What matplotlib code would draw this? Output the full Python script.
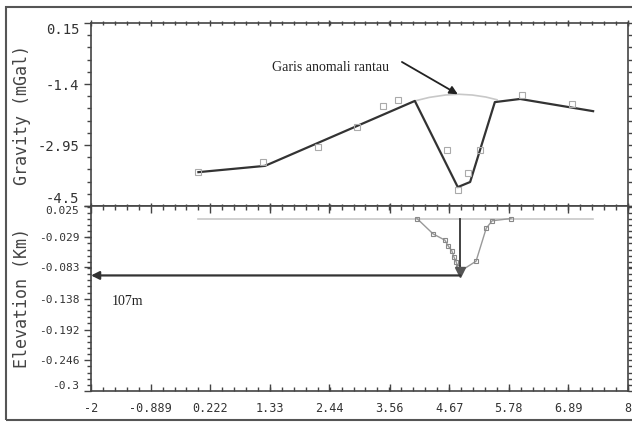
import matplotlib.pyplot as plt
import numpy as np
from matplotlib.patches import Rectangle
from matplotlib.ticker import AutoMinorLocator

# gravity profile (top panel)
grav_line_x = [0.0, 1.24, 4.03, 4.83, 5.06, 5.52, 5.99, 7.35]
grav_line_g = [-3.64, -3.48, -1.83, -4.02, -3.89, -1.86, -1.78, -2.09]

obs_x = [0.0, 1.20, 2.23, 2.95, 3.44, 3.72, 4.63, 4.83, 5.02, 5.24, 6.03, 6.96]
obs_g = [-3.64, -3.38, -3.00, -2.49, -1.96, -1.81, -3.08, -4.09, -3.66, -3.08, -1.68, -1.91]

# regional anomaly ("garis anomali rantau")
reg_x = [4.03, 4.30, 4.60, 4.85, 5.10, 5.35, 5.56]
reg_g = [-1.83, -1.74, -1.68, -1.66, -1.68, -1.73, -1.80]

# basin model (bottom panel)
surf_x = [0.0, 7.35]
surf_e = [0.003, 0.003]
basin_x = [4.07, 4.37, 4.59, 4.65, 4.72, 4.76, 4.80, 4.83, 4.87, 5.17, 5.36, 5.47, 5.82]
basin_e = [0.003, -0.024, -0.035, -0.045, -0.054, -0.065, -0.073, -0.082, -0.090, -0.072, -0.014, -0.001, 0.003]
depth_x = 4.88
depth_e = -0.097

x_ticks = [-2, -0.889, 0.222, 1.33, 2.44, 3.56, 4.67, 5.78, 6.89, 8]
g_ticks = [0.15, -1.4, -2.95, -4.5]
e_ticks = [0.025, -0.029, -0.083, -0.138, -0.192, -0.246, -0.3]

mono = "DejaVu Sans Mono"
serif = "Liberation Serif"
txt = "#333333"

fig = plt.figure(figsize=(6.32, 4.23), dpi=100)
ax1 = fig.add_axes([0.144, 0.5130, 0.8497, 0.4326])
ax2 = fig.add_axes([0.144, 0.0757, 0.8497, 0.4373], sharex=ax1)

for ax in (ax1, ax2):
    ax.set_xlim(-2, 8)
    ax.set_xticks(x_ticks)
    ax.xaxis.set_minor_locator(AutoMinorLocator(5))
    ax.yaxis.set_minor_locator(AutoMinorLocator(5))
    ax.tick_params(which="both", top=True, right=True, color="#444444", width=1)
    ax.tick_params(which="major", length=5)
    ax.tick_params(which="minor", length=3)
    ax.tick_params(axis="x", which="both", direction="inout")
    ax.tick_params(axis="y", which="both", direction="out")
    for s in ax.spines.values():
        s.set_color("#444444")
        s.set_linewidth(1.2)

# top panel
ax1.set_ylim(-4.5, 0.15)
ax1.set_yticks(g_ticks)
ax1.set_yticklabels(["0.15", "-1.4", "-2.95", "-4.5"], fontfamily=mono,
                    fontsize=10, color=txt)
labs = ax1.get_yticklabels()
labs[0].set_va("top")
labs[-1].set_va("bottom")
ax1.tick_params(axis="x", labelbottom=False)
ax1.plot(reg_x, reg_g, color="#c8c8c8", lw=1.2)
ax1.plot(grav_line_x, grav_line_g, color="#333333", lw=1.6)
ax1.plot(obs_x, obs_g, ls="none", marker="s", ms=4, mfc="none",
         mec="#aaaaaa", mew=0.8)
ax1.set_ylabel("Gravity (mGal)", fontfamily=mono, fontsize=12, color="#444444")
ax1.yaxis.set_label_coords(-0.112, 0.5)
ax1.text(1.37, -0.99, "Garis anomali rantau", fontfamily=serif, fontsize=10,
         color="#222222", va="center")
ax1.annotate("", xy=(4.83, -1.66), xytext=(3.79, -0.84),
             arrowprops=dict(arrowstyle="-|>", color="#222222", lw=1.3,
                             shrinkA=0, shrinkB=0, mutation_scale=12))

# bottom panel
ax2.set_ylim(-0.3, 0.025)
ax2.set_yticks(e_ticks)
ax2.set_yticklabels(["0.025", "-0.029", "-0.083", "-0.138", "-0.192",
                     "-0.246", "-0.3"], fontfamily=mono, fontsize=8, color=txt)
labs = ax2.get_yticklabels()
labs[0].set_va("top")
labs[-1].set_va("bottom")
ax2.set_xticklabels(["-2", "-0.889", "0.222", "1.33", "2.44", "3.56", "4.67",
                     "5.78", "6.89", "8"], fontfamily=mono, fontsize=8.5,
                    color=txt)
ax2.tick_params(axis="x", which="both", direction="in", pad=8)
ax2.plot(surf_x, surf_e, color="#c8c8c8", lw=1.2)
ax2.plot(basin_x, basin_e, color="#999999", lw=1, marker="s", ms=3.5,
         mfc="none", mec="#888888", mew=0.8)
ax2.plot([depth_x, depth_x], [surf_e[0], depth_e], color="#333333", lw=1.3)
ax2.plot([depth_x], [depth_e + 0.006], marker="v", color="#555555", ms=7)
ax2.annotate("", xy=(-2, depth_e), xytext=(depth_x, depth_e),
             arrowprops=dict(arrowstyle="-|>", color="#333333", lw=1.6,
                             shrinkA=0, shrinkB=0, mutation_scale=12))
ax2.text(-1.61, -0.143, "107m", fontfamily=serif, fontsize=10,
         color="#222222", va="center")
ax2.set_ylabel("Elevation (Km)", fontfamily=mono, fontsize=12, color="#444444")
ax2.yaxis.set_label_coords(-0.112, 0.5)

# outer frame of the scanned figure
fig.patches.append(Rectangle((6 / 632, 1 - 420 / 423), 1.1, 413 / 423,
                             transform=fig.transFigure, fill=False,
                             ec="#555555", lw=1.5))

fig.savefig("out.png", dpi=100)
